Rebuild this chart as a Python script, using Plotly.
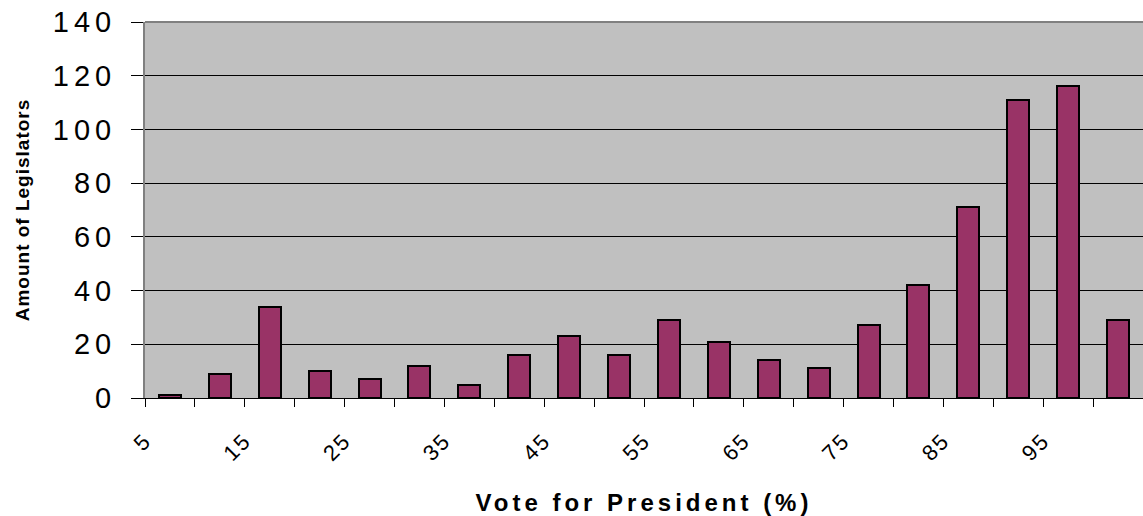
import plotly.graph_objects as go

# Data
bin_centers = [7.5, 12.5, 17.5, 22.5, 27.5, 32.5, 37.5, 42.5, 47.5, 52.5,
               57.5, 62.5, 67.5, 72.5, 77.5, 82.5, 87.5, 92.5, 97.5, 102.5]
legislators = [1, 9, 34, 10, 7, 12, 5, 16, 23, 16,
               29, 21, 14, 11, 27, 42, 71, 111, 116, 29]
x_tick_vals = [5, 10, 15, 20, 25, 30, 35, 40, 45, 50,
               55, 60, 65, 70, 75, 80, 85, 90, 95, 100]
x_tick_text = ["5", "", "15", "", "25", "", "35", "", "45", "",
               "55", "", "65", "", "75", "", "85", "", "95", ""]
y_tick_vals = [0, 20, 40, 60, 80, 100, 120, 140]
y_tick_text = ["0", "20", "40", "60", "80", "100", "120", "140"]

FONT = "Liberation Sans, Arial, sans-serif"

fig = go.Figure()
fig.add_trace(go.Bar(
    x=bin_centers, y=legislators, width=2.2,
    marker=dict(color="#993366", line=dict(color="black", width=2)),
    showlegend=False,
))

fig.update_layout(
    width=1143, height=516,
    margin=dict(l=145, r=0, t=22, b=118),
    paper_bgcolor="white", plot_bgcolor="#C0C0C0",
    font=dict(family=FONT, color="black"),
    bargap=0,
)
fig.update_xaxes(
    range=[5, 105], tickmode="array", tickvals=x_tick_vals, ticktext=x_tick_text,
    tickangle=-45, tickfont=dict(size=22), ticks="outside", ticklen=8, tickwidth=1,
    tickcolor="black", showgrid=False, showline=True, linecolor="black", linewidth=1,
    zeroline=False, ticklabelstandoff=12,
    title=dict(text="<b>Vote for President (%)</b>", font=dict(size=24), standoff=32),
    automargin=False,
)
fig.update_yaxes(
    range=[0, 140], tickmode="array", tickvals=y_tick_vals, ticktext=y_tick_text,
    tickfont=dict(size=29), ticks="outside", ticklen=12, tickwidth=1, tickcolor="black",
    showgrid=True, gridcolor="black", gridwidth=1, showline=True, linecolor="#808080",
    linewidth=2, zeroline=False, ticklabelstandoff=9,
    title=dict(text="<b>Amount of Legislators</b>", font=dict(size=19), standoff=33),
    automargin=False,
)
fig.add_shape(type="line", xref="paper", yref="paper", x0=0, x1=1, y0=1, y1=1,
              line=dict(color="#808080", width=2))

post = """
var gd = document.getElementById('{plot_id}');
function spaceText(){
  gd.querySelectorAll('g.ytick text').forEach(function(t){t.style.letterSpacing='5px';});
  gd.querySelectorAll('g.xtick text').forEach(function(t){t.style.letterSpacing='2px';});
  gd.querySelectorAll('.g-xtitle text').forEach(function(t){t.style.letterSpacing='4px';});
  gd.querySelectorAll('.g-ytitle text').forEach(function(t){t.style.letterSpacing='1px';});
}
spaceText();
gd.on('plotly_afterplot', spaceText);
"""

fig.write_html("out.html", post_script=post)
